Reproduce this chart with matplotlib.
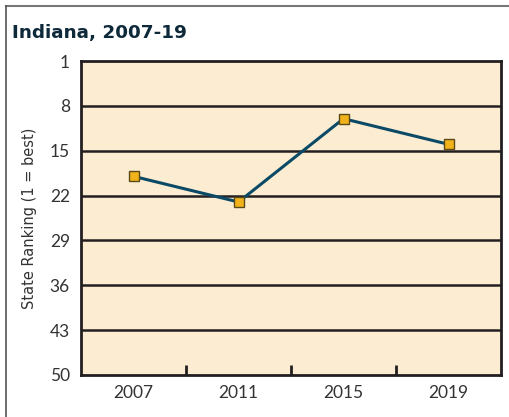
import matplotlib.pyplot as plt
from matplotlib.lines import Line2D

years = ["2007", "2011", "2015", "2019"]
ranks = [19, 23, 10, 14]
ytick_vals = [1, 8, 15, 22, 29, 36, 43, 50]

plt.rcParams['font.family'] = ['DejaVu Sans']

fig = plt.figure(figsize=(5.09, 4.17), dpi=100)
ax = fig.add_axes([81 / 509, 1 - 375 / 417, 420 / 509, 314 / 417])

ax.set_facecolor('#FCEDD2')
x = range(len(years))
ax.plot(x, ranks, color='#0B4A66', lw=2.2, marker='s', ms=7,
        mfc='#F2B31A', mec='#5A4A1A', mew=1.0, zorder=3)

ax.set_xlim(-0.5, len(years) - 0.5)
ax.set_ylim(50, 1)
ax.set_yticks(ytick_vals)
ax.set_yticklabels([str(v) for v in ytick_vals], family='Lato')
ax.set_xticks(list(x))
ax.set_xticklabels(years, family='Lato')
ax.set_xticks([0.5, 1.5, 2.5], minor=True)

for v in ytick_vals[1:-1]:
    ax.axhline(v, color='#231F20', lw=1.8, zorder=1)

for s in ax.spines.values():
    s.set_color('#231F20')
    s.set_linewidth(2)

ax.tick_params(axis='y', length=0, pad=8, labelsize=12.5, labelcolor='#333333')
ax.tick_params(axis='x', which='major', length=0, pad=7, labelsize=12.5, labelcolor='#333333')
ax.tick_params(axis='x', which='minor', direction='in', length=7, width=2, color='#231F20')

ax.set_ylabel('State Ranking (1 = best)', fontsize=10.5, color='#333333', labelpad=9)

fig.text(12 / 509, 1 - 33 / 417, 'Indiana, 2007-19', fontsize=13.2, fontweight='bold',
         color='#0E2A3A', va='center', ha='left')

# thin gray frame along top and left
fig.add_artist(Line2D([5.5 / 509, 1], [1 - 6 / 417, 1 - 6 / 417], color='#777777', lw=1.5))
fig.add_artist(Line2D([5.5 / 509, 5.5 / 509], [0, 1 - 6 / 417], color='#555555', lw=1.2))

fig.savefig('out.png', dpi=100)
